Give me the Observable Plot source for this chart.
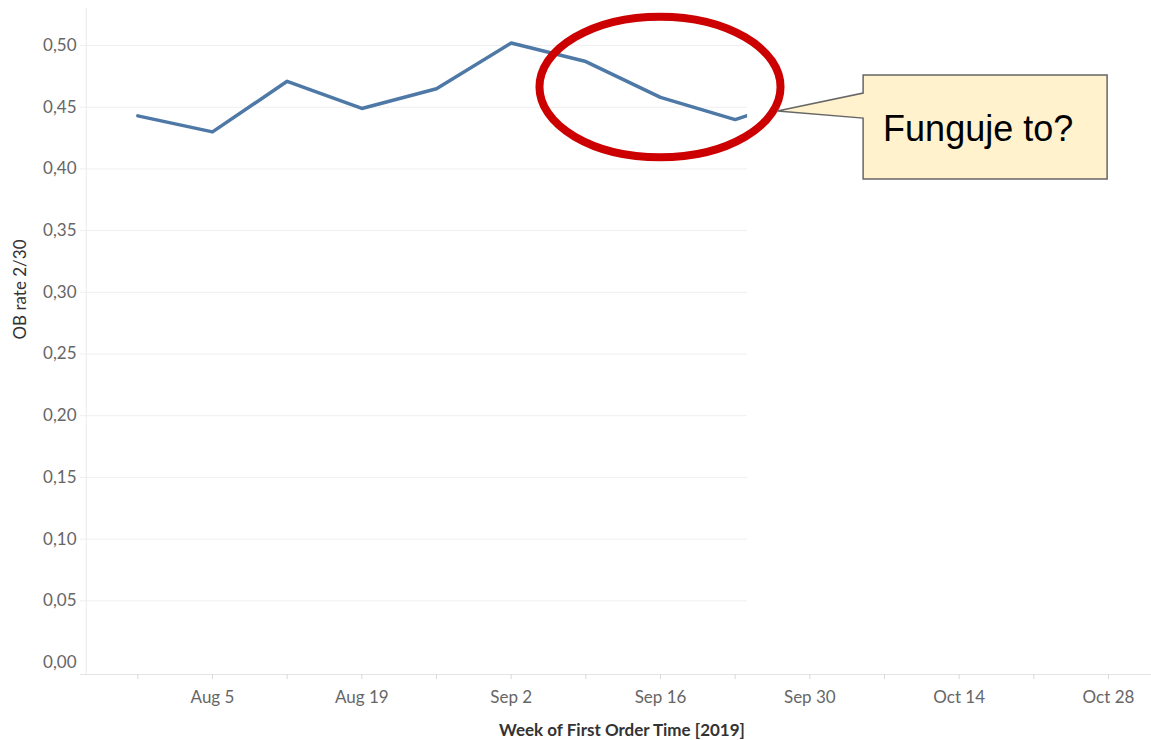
<!DOCTYPE html>
<html><head><meta charset="utf-8">
<script src="https://cdn.jsdelivr.net/npm/d3@7"></script>
<script src="https://cdn.jsdelivr.net/npm/@observablehq/plot@0.6"></script>
<style>
html,body{margin:0;padding:0;background:#fff;}
#chart svg{display:block;}
</style></head><body><div id="chart"></div>
<script>
// ---- data ----
const weeks = ["2019-07-29","2019-08-05","2019-08-12","2019-08-19","2019-08-26","2019-09-02","2019-09-09","2019-09-16","2019-09-23","2019-09-30"];
const obRate = [0.443, 0.430, 0.471, 0.449, 0.465, 0.502, 0.487, 0.458, 0.440, 0.460];
const yTicks = [0, 0.05, 0.10, 0.15, 0.20, 0.25, 0.30, 0.35, 0.40, 0.45, 0.50];
const xTickWeeks = ["2019-07-29","2019-08-05","2019-08-12","2019-08-19","2019-08-26","2019-09-02","2019-09-09","2019-09-16","2019-09-23","2019-09-30","2019-10-07","2019-10-14","2019-10-21","2019-10-28"];
const xLabelWeeks = ["2019-08-05","2019-08-19","2019-09-02","2019-09-16","2019-09-30","2019-10-14","2019-10-28"];
const xDomain = ["2019-07-23T15:00Z", "2019-11-01T00:45Z"];
const yDomain = [-0.0097, 0.53];
const paneStart = "2019-07-24T04:00Z";
const paneEnd = "2019-09-24T04:00Z";
const yTitle = "OB rate 2/30";
const xTitle = "Week of First Order Time [2019]";
// ---- annotations (data coordinates) ----
const ellipseCenter = {x: "2019-09-16", y: 0.466};
const ellipseHalfDays = 11.3;
const ellipseHalfValue = 0.057;
const calloutText = "Funguje to?";
const calloutBox = {x1: "2019-10-05T01:00Z", x2: "2019-10-27T22:00Z", y1: 0.3914, y2: 0.4757};
const calloutTip = {x: "2019-09-27T00:00Z", y: 0.4465};
const calloutBase = [0.4611, 0.4408];
const calloutTextPos = {x: "2019-10-06T22:00Z", y: 0.4222};

const parse = s => new Date(s.length === 10 ? s + "T00:00Z" : s);
const data = weeks.map((w, i) => ({week: parse(w), rate: obRate[i]}));
const fmtY = d => d3.format(".2f")(d).replace(".", ",");
const fmtX = d3.utcFormat("%b %-d");
const key = d3.utcFormat("%Y-%m-%d");
const labelSet = new Set(xLabelWeeks);
const font = "Lato, 'Open Sans', sans-serif";

const plot = Plot.plot({
  width: 1151, height: 740,
  marginTop: 8, marginBottom: 66, marginLeft: 80, marginRight: 0,
  style: {fontFamily: font, fontSize: "17px", background: "#fff", color: "#666"},
  x: {type: "utc", domain: xDomain.map(parse)},
  y: {domain: yDomain},
  marks: [
    Plot.ruleY(yTicks.filter(d => d > 0), {stroke: "#efefef", strokeWidth: 1}),
    Plot.ruleX([parse(paneStart)], {y1: yDomain[0], y2: yDomain[1], stroke: "#ebebeb"}),
    Plot.line(data, {x: "week", y: "rate", stroke: "#4e79a7", strokeWidth: 3.5}),
    Plot.rect([{x1: parse(paneEnd), x2: parse(xDomain[1]), y1: yDomain[0], y2: yDomain[1]}],
      {x1: "x1", x2: "x2", y1: "y1", y2: "y2", fill: "#ffffff"}),
    Plot.ruleY([yDomain[0]], {stroke: "#e4e4e4"}),
    Plot.axisX(xTickWeeks.map(parse), {tickSize: 5, tickPadding: 11, stroke: "#d9d9d9", fill: "#666", fontSize: 17,
      tickFormat: d => labelSet.has(key(d)) ? fmtX(d) : "", label: null}),
    Plot.axisY(yTicks, {tickSize: 0, tickPadding: 4, fill: "#666", fontSize: 17, tickFormat: fmtY, label: null}),
    Plot.text([xTitle], {text: d => d, frameAnchor: "bottom", lineAnchor: "middle", dy: 56, dx: 6,
      fill: "#333", fontSize: 17, fontWeight: "bold"}),
    Plot.text([yTitle], {text: d => d, frameAnchor: "left", lineAnchor: "middle", rotate: -90, dx: -60, dy: -2,
      fill: "#333", fontSize: 17})
  ]
});
document.getElementById("chart").appendChild(plot);

// ---- annotation overlay through the plot's scales ----
const X = v => plot.scale("x").apply(parse(v));
const Y = v => plot.scale("y").apply(v);
const svg = d3.select(plot);
const g = svg.append("g");
const cx = X(ellipseCenter.x), cy = Y(ellipseCenter.y);
g.append("ellipse")
  .attr("cx", cx).attr("cy", cy)
  .attr("rx", plot.scale("x").apply(new Date(parse(ellipseCenter.x).getTime() + ellipseHalfDays * 864e5)) - cx)
  .attr("ry", Y(ellipseCenter.y - ellipseHalfValue) - cy)
  .attr("fill", "none").attr("stroke", "#cc0000").attr("stroke-width", 8);
const bx1 = X(calloutBox.x1), bx2 = X(calloutBox.x2), by1 = Y(calloutBox.y2), by2 = Y(calloutBox.y1);
const pts = [
  [X(calloutTip.x), Y(calloutTip.y)],
  [bx1, Y(calloutBase[0])], [bx1, by1], [bx2, by1], [bx2, by2], [bx1, by2],
  [bx1, Y(calloutBase[1])]
];
g.append("path")
  .attr("d", "M" + pts.map(p => p.join(",")).join("L") + "Z")
  .attr("fill", "#fff2cc").attr("stroke", "#666666").attr("stroke-width", 1.5).attr("stroke-linejoin", "miter");
g.append("text")
  .attr("x", X(calloutTextPos.x)).attr("y", Y(calloutTextPos.y))
  .attr("text-anchor", "start")
  .attr("font-family", "'Liberation Sans', Arial, sans-serif").attr("font-size", 36).attr("fill", "#000")
  .text(calloutText);
</script>
</body></html>
